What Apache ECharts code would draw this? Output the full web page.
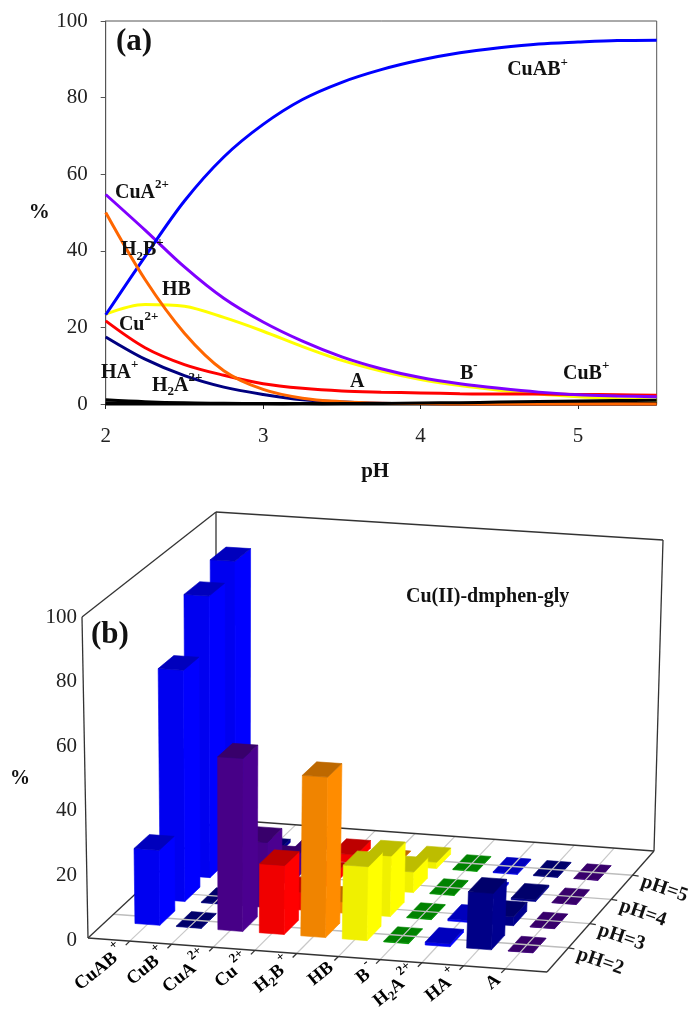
<!DOCTYPE html>
<html>
<head>
<meta charset="utf-8">
<style>
  html, body { margin: 0; padding: 0; background: #fff; }
  #chart { width: 688px; height: 1012px; }
</style>
<script src="https://cdn.jsdelivr.net/npm/echarts@6/dist/echarts.min.js"></script>
</head>
<body>
<div id="chart"></div>
<script>
// panel (a): distribution curves
const phGrid = [2, 2.25, 2.5, 2.75, 3, 3.25, 3.5, 3.75, 4, 4.25, 4.5, 4.75, 5, 5.25, 5.5];
const curveCuAB = [23.3, 38.5, 53, 64.5, 73, 79.5, 84, 87.3, 89.8, 91.7, 93, 94, 94.5, 94.9, 95];
const curveCuA = [54.7, 45.4, 35.8, 27.6, 21.4, 16.4, 12.3, 9.2, 6.9, 5.3, 4.1, 3.1, 2.4, 2.1, 1.9];
const curveHB = [23.5, 26, 25.5, 22.6, 19, 15, 11.4, 8.6, 6.4, 4.8, 3.6, 2.6, 1.9, 1.4, 1.0];
const curveCu = [21.7, 14.7, 10.3, 7.5, 5.3, 4.1, 3.4, 3.1, 2.9, 2.7, 2.6, 2.6, 2.5, 2.4, 2.3];
const curveH2B = [50, 32.5, 18.5, 8.7, 3.8, 1.5, 0.6, 0.2, 0.1, 0, 0, 0, 0, 0, 0];
const curveHA = [17.5, 11.7, 7.4, 4.4, 2.5, 1.1, 0.5, 0.2, 0.1, 0, 0, 0, 0, 0, 0];
const curveH2A = [1.1, 0.6, 0.3, 0.2, 0.1, 0.05, 0, 0, 0, 0, 0, 0, 0, 0, 0];
const curveA = [0.3, 0.2, 0.1, 0.1, 0.1, 0.1, 0.1, 0.1, 0.1, 0.1, 0.1, 0.1, 0.1, 0.1, 0.1];
const curveCuB = [0, 0, 0, 0, 0, 0.05, 0.1, 0.15, 0.25, 0.35, 0.5, 0.65, 0.8, 0.9, 1];

const curveLabels = ['{b|CuAB}{sup|+}', '{b|CuA}{sup|2+}', '{b|H}{sub|2}{b|B}{sup|+}', '{b|HB}', '{b|Cu}{sup|2+}', '{b|HA}{sup|+}', '{b|H}{sub|2}{b|A}{sup|2+}', '{b|A}', '{b|B}{sup|-}', '{b|CuB}{sup|+}'];
const curveLabelX = [4.55, 2.059, 2.097, 2.358, 2.084, 1.97, 2.294, 3.552, 4.25, 4.905];
const curveLabelY = [87.3, 55.2, 40.3, 29.9, 20.8, 8.2, 4.8, 5.9, 8, 8];

// panel (b): bars, one list per pH row
const categories = ['{b|CuAB}{sup|+}', '{b|CuB}{sup|+}', '{b|CuA}{sup|2+}', '{b|Cu}{sup|2+}', '{b|H}{sub|2}{b|B}{sup|+}', '{b|HB}', '{b|B}{sup|-}', '{b|H}{sub|2}{b|A}{sup|2+}', '{b|HA}{sup|+}', '{b|A}'];
const phRows = ['pH=2', 'pH=3', 'pH=4', 'pH=5'];
const barsPH2 = [23.5, 0.2, 54, 21.5, 50, 23, 0.2, 0.9, 17.5, 0.1];
const barsPH3 = [73, 0.2, 20.5, 5.5, 3.5, 19, 0.2, 0.6, 2.8, 0.1];
const barsPH4 = [89.7, 0.5, 7, 3, 0.2, 6.5, 0.2, 0.5, 0.6, 0.1];
const barsPH5 = [94, 1, 2.5, 2.5, 0.1, 2, 0.2, 0.3, 0.2, 0.1];
const barColors = ['#0000ff', '#000090', '#4b0090', '#ff0000', '#ff8c00', '#ffff00', '#00b000', '#0000ff', '#000090', '#4b0090'];

const SERIF = '"Liberation Serif", "Times New Roman", serif';
const INK = '#111';

function richFor(size, supSize, lineH, gap, subLift) {
  const small = { fontFamily: SERIF, fontWeight: 'bold', fontSize: supSize, lineHeight: supSize + 1, color: INK };
  return {
    b: { fontFamily: SERIF, fontWeight: 'bold', fontSize: size, lineHeight: lineH, color: INK },
    sup: { ...small, verticalAlign: 'top', padding: [0, 0, 0, gap] },
    sub: { ...small, verticalAlign: 'bottom', padding: [0, 0, subLift, 0] }
  };
}
const curveRich = richFor(20, 13, 28, 0, 1);
const catRich = richFor(18.5, 13, 32, 2, 4);

// corners of the 3d box on the page
const floorFL = [88, 938], floorFR = [547, 972], floorBL = [216, 819], floorBR = [654, 851];
const topFL = [82, 617], topFR = [562, 647], topBL = [216, 512], topBR = [663, 540];
const COLS = 11, DEPTH = 5, FLAT = 0.35, HALF_W = 0.3, HALF_D = 0.3;

function lerp(a, b, t) { return [a[0] + (b[0] - a[0]) * t, a[1] + (b[1] - a[1]) * t]; }

// u,v,h are 0-1 along the category axis, into the page and up
function boxPoint(u, v, h) {
  const low = lerp(lerp(floorFL, floorFR, u), lerp(floorBL, floorBR, u), v);
  const high = lerp(lerp(topFL, topFR, u), lerp(topBL, topBR, u), v);
  return lerp(low, high, h);
}

// col and val go through the hidden axes, row is the depth slot
function project(params, api, col, row, val) {
  const cs = params.coordSys;
  const p = api.coord([col, val]);
  return boxPoint((p[0] - cs.x) / cs.width, row / DEPTH, (cs.y + cs.height - p[1]) / cs.height);
}

function shade(hex, f) {
  const n = parseInt(hex.slice(1), 16);
  const c = [n >> 16, (n >> 8) & 255, n & 255].map(x => Math.round(x * f));
  return 'rgb(' + c.join(',') + ')';
}

const barRows = [barsPH2, barsPH3, barsPH4, barsPH5];
const barData = [];
for (let r = barRows.length - 1; r >= 0; r--) {
  barRows[r].forEach((v, c) => barData.push([c + 1, v, r + 1, c]));
}

function face(points, fill) {
  return { type: 'polygon', shape: { points: points }, style: { fill: fill, stroke: fill, lineWidth: 0.6 } };
}

function renderBar(params, api) {
  const col = api.value(0), val = api.value(1), row = api.value(2);
  const base = barColors[api.value(3)];
  const pt = (dc, dr, h) => project(params, api, col + dc, row + dr, h);
  const a = pt(-HALF_W, -HALF_D, val), b = pt(HALF_W, -HALF_D, val);
  const c = pt(HALF_W, HALF_D, val), d = pt(-HALF_W, HALF_D, val);
  const a0 = pt(-HALF_W, -HALF_D, 0), b0 = pt(HALF_W, -HALF_D, 0), c0 = pt(HALF_W, HALF_D, 0);
  return {
    type: 'group',
    children: [
      face([a0, b0, b, a], shade(base, 0.94)),
      face([b0, c0, c, b], shade(base, 1)),
      face([a, b, c, d], shade(base, 0.74))
    ]
  };
}

function seg(p, q, color, width) {
  return { type: 'line', shape: { x1: p[0], y1: p[1], x2: q[0], y2: q[1] }, style: { stroke: color, lineWidth: width || 1 } };
}

function renderFloorLines(params, api) {
  const kids = [];
  for (let c = 1; c < COLS; c++) {
    kids.push(seg(project(params, api, c, 0, 0), project(params, api, c, DEPTH, 0), '#c8c8c8', 1.2));
  }
  for (let r = 1; r < DEPTH; r++) {
    kids.push(seg(project(params, api, 0, r, 0), project(params, api, COLS, r, 0), '#bdbdbd', 1.4));
  }
  return { type: 'group', children: kids };
}

function renderFrame(params, api) {
  const ink = '#333';
  const w = 1.3;
  const kids = [
    seg(floorFL, floorFR, ink, w), seg(floorFR, floorBR, ink, w), seg(floorBR, floorBL, ink, w), seg(floorBL, floorFL, ink, w),
    seg(floorFL, topFL, ink, w), seg(topFL, topBL, ink, w), seg(topBL, floorBL, ink, w),
    seg(topBL, topBR, ink, w), seg(topBR, floorBR, ink, w)
  ];
  for (let c = 1; c < COLS; c++) {
    const p = project(params, api, c, 0, 0);
    kids.push(seg(p, [p[0] - 4, p[1] + 4], ink, w));
  }
  for (let r = 1; r < DEPTH; r++) {
    const p = project(params, api, COLS, r, 0);
    kids.push(seg(p, [p[0] + 6, p[1] + 1], ink, w));
  }
  return { type: 'group', children: kids };
}

function renderCatLabel(params, api) {
  const p = project(params, api, api.value(0), 0, 0);
  return {
    type: 'text', x: p[0] - 7, y: p[1] + 9, rotation: 0.68,
    style: { text: categories[api.value(1)], rich: catRich, align: 'right', verticalAlign: 'middle' }
  };
}

function renderRowLabel(params, api) {
  const p = project(params, api, COLS, api.value(0), 0);
  return {
    type: 'text', x: p[0] + 9, y: p[1] + 6, rotation: -0.33,
    style: { text: phRows[api.value(1)], font: 'bold 20px ' + SERIF, fill: INK, align: 'left', verticalAlign: 'middle' }
  };
}

function curve(ys, color) {
  return {
    type: 'line', xAxisIndex: 0, yAxisIndex: 0, data: phGrid.map((x, i) => [x, ys[i]]),
    showSymbol: false, smooth: 0.33, clip: false, silent: true,
    lineStyle: { color: color, width: 3 }
  };
}

const chart = echarts.init(document.getElementById('chart'), null, { renderer: 'canvas' });
const numLabel = { fontFamily: SERIF, fontSize: 21, color: '#222' };
const flatBars = barData.filter(d => d[1] < FLAT);
const tallBars = barData.filter(d => d[1] >= FLAT);

chart.setOption({
  animation: false,
  backgroundColor: '#fff',
  grid: [
    { left: 105.7, top: 21, width: 551, height: 383, show: true, borderColor: '#555', borderWidth: 1, backgroundColor: 'transparent' },
    { left: 88, top: 617, width: 459, height: 323 }
  ],
  xAxis: [
    {
      gridIndex: 0, type: 'value', min: 2, max: 5.5, interval: 1,
      name: 'pH', nameLocation: 'middle', nameGap: 57,
      nameTextStyle: { fontFamily: SERIF, fontWeight: 'bold', fontSize: 21, color: INK, padding: [0, 12, 0, 0] },
      axisLine: { lineStyle: { color: '#222' } },
      axisTick: { length: 5, lineStyle: { color: '#222' }, customValues: [2, 3, 4, 5] },
      axisLabel: { ...numLabel, margin: 22, customValues: [2, 3, 4, 5] },
      splitLine: { show: false }
    },
    { gridIndex: 1, type: 'value', min: 0, max: COLS, show: false, splitLine: { show: false } }
  ],
  yAxis: [
    {
      gridIndex: 0, type: 'value', min: 0, max: 100, interval: 20,
      name: '%', nameLocation: 'middle', nameRotate: 0, nameGap: 56,
      nameTextStyle: { fontFamily: SERIF, fontWeight: 'bold', fontSize: 21, color: INK, padding: [0, 0, 24, 0] },
      axisLine: { show: true, lineStyle: { color: '#555' } },
      axisTick: { show: true, length: 5, lineStyle: { color: '#555' } },
      axisLabel: { ...numLabel, margin: 18, padding: [4, 0, 0, 0] },
      splitLine: { show: false }
    },
    {
      gridIndex: 1, type: 'value', min: 0, max: 100, interval: 20,
      name: '%', nameLocation: 'middle', nameRotate: 0, nameGap: 58,
      nameTextStyle: { fontFamily: SERIF, fontWeight: 'bold', fontSize: 20, color: INK, padding: [8, 0, 0, 0] },
      axisLine: { show: false }, axisTick: { show: false },
      axisLabel: { ...numLabel, margin: 11, padding: [4, 0, 0, 0] },
      splitLine: { show: false }
    }
  ],
  series: [
    curve(curveHB, '#ffff00'),
    curve(curveCu, '#ff0000'),
    curve(curveHA, '#000080'),
    curve(curveCuA, '#8000ff'),
    curve(curveCuAB, '#0000ff'),
    curve(curveA, '#000000'),
    curve(curveH2A, '#000000'),
    curve(curveH2B, '#ff6600'),
    curve(curveCuB, '#000000'),
    {
      type: 'scatter', xAxisIndex: 0, yAxisIndex: 0, symbolSize: 0, silent: true, z: 5, clip: false,
      itemStyle: { opacity: 1 },
      data: curveLabels.map((t, i) => ({ value: [curveLabelX[i], curveLabelY[i]], text: t })),
      label: {
        show: true, position: 'right', distance: 0, rich: curveRich,
        formatter: p => p.data.text
      }
    },
    {
      type: 'custom', xAxisIndex: 1, yAxisIndex: 1, coordinateSystem: 'cartesian2d', silent: true, clip: false, z: 2,
      data: flatBars, renderItem: renderBar
    },
    {
      type: 'custom', xAxisIndex: 1, yAxisIndex: 1, coordinateSystem: 'cartesian2d', silent: true, clip: false, z: 3,
      data: [[0, 0]], renderItem: renderFloorLines
    },
    {
      type: 'custom', xAxisIndex: 1, yAxisIndex: 1, coordinateSystem: 'cartesian2d', silent: true, clip: false, z: 3,
      data: [[0, 0]], renderItem: renderFrame
    },
    {
      type: 'custom', xAxisIndex: 1, yAxisIndex: 1, coordinateSystem: 'cartesian2d', silent: true, clip: false, z: 4,
      data: tallBars, renderItem: renderBar
    },
    {
      type: 'custom', xAxisIndex: 1, yAxisIndex: 1, coordinateSystem: 'cartesian2d', silent: true, clip: false, z: 5,
      data: categories.map((c, i) => [i + 1, i]), renderItem: renderCatLabel
    },
    {
      type: 'custom', xAxisIndex: 1, yAxisIndex: 1, coordinateSystem: 'cartesian2d', silent: true, clip: false, z: 5,
      data: phRows.map((c, i) => [i + 1, i]), renderItem: renderRowLabel
    }
  ],
  graphic: [
    { type: 'text', left: 116, top: 26, z: 10, style: { text: '(a)', font: 'bold 31px ' + SERIF, fill: INK } },
    { type: 'text', left: 91, top: 619, z: 10, style: { text: '(b)', font: 'bold 31px ' + SERIF, fill: INK } },
    { type: 'text', left: 406, top: 587, z: 10, style: { text: 'Cu(II)-dmphen-gly', font: 'bold 20px ' + SERIF, fill: INK } }
  ]
});
</script>
</body>
</html>
